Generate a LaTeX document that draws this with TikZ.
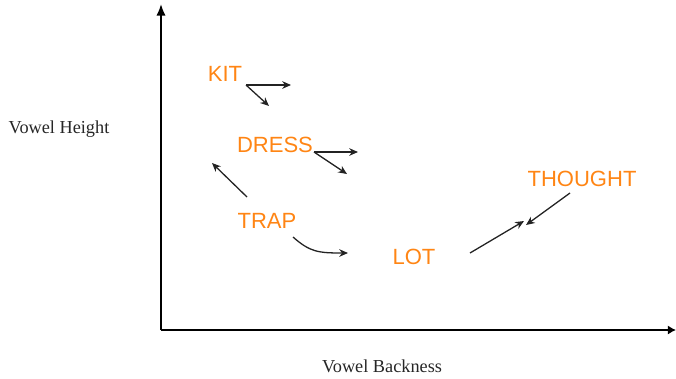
\documentclass[tikz,border=0pt]{standalone}
\usepackage{fontspec}
\setmainfont{Liberation Serif}
\newfontfamily\labfont{Liberation Sans}
\usepackage{xcolor}
\usetikzlibrary{arrows.meta,positioning}
\definecolor{vowel}{RGB}{255,133,20}
\definecolor{movecol}{RGB}{35,35,35}

\begin{document}
\begin{tikzpicture}[x=0.03cm,y=-0.03cm,
      v/.style={text=vowel,font=\labfont\fontsize{18.8}{20}\selectfont,inner sep=0pt},
      ax/.style={font=\fontsize{15.6}{18}\selectfont,text=black!85,inner sep=0pt,anchor=base},
      mv/.style={draw=movecol,line width=1.1pt,-{Stealth[length=7.5pt,width=6.5pt]}},
      thick]
      \useasboundingbox (0,0) rectangle (676,378);
      % axes
      \coordinate (o) at (161,330);
      \coordinate (ytop) at (161,4);
      \coordinate (xend) at (676,330);
      \draw[line width=1.6pt,-{Latex[length=10pt,width=8pt]}] (o) -- (ytop);
      \draw[line width=1.6pt,-{Latex[length=7pt,width=8pt]}] (o) -- (xend);
      \node[ax] (height) at (59,133) {Vowel Height};
      \node[ax] (back) at (382,372) {Vowel Backness};
      % vowels
      \node[v] (kit) at (225,74) {KIT};
      \node[v] (dress) at (275,145) {DRESS};
      \node[v] (trap) at (267,221) {TRAP};
      \node[v] (lot) at (414,257) {LOT};
      \node[v] (thought) at (582,179) {THOUGHT};
      % shifts
      \coordinate (kit0) at (246,85);
      \coordinate (kit1) at (291,85);
      \coordinate (kit2) at (269,106);
      \draw[mv] (kit0) -- (kit1);
      \draw[mv] (kit0) -- (kit2);
      \coordinate (dress0) at (314,152);
      \coordinate (dress1) at (358,152);
      \coordinate (dress2) at (347,174);
      \draw[mv] (dress0) -- (dress1);
      \draw[mv] (dress0) -- (dress2);
      \coordinate (trap0) at (247,197);
      \coordinate (trap1) at (212,163);
      \coordinate (trap2) at (293,237);
      \coordinate (trap3) at (348,253);
      \draw[mv] (trap0) -- (trap1);
      \draw[mv] (trap2) .. controls (310,252) and (318,253) .. (trap3);
      \coordinate (lot0) at (470,253);
      \coordinate (lot1) at (524,221);
      \draw[mv] (lot0) -- (lot1);
      \coordinate (th0) at (570,193);
      \coordinate (th1) at (526,225);
      \draw[mv] (th0) -- (th1);
    \end{tikzpicture}
\end{document}
